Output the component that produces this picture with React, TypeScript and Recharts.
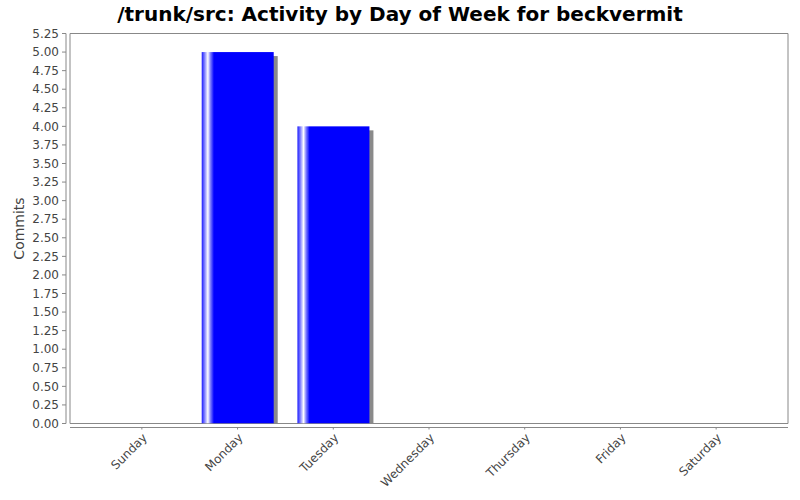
import React from 'react';
import { BarChart, Bar, XAxis, YAxis, CartesianGrid } from 'recharts';

const days = ['Sunday', 'Monday', 'Tuesday', 'Wednesday', 'Thursday', 'Friday', 'Saturday'];
const commits = [0, 5, 4, 0, 0, 0, 0];
const yTicks = [0, 0.25, 0.5, 0.75, 1, 1.25, 1.5, 1.75, 2, 2.25, 2.5, 2.75, 3, 3.25, 3.5, 3.75, 4, 4.25, 4.5, 4.75, 5, 5.25];
const title = '/trunk/src: Activity by Day of Week for beckvermit';
const yLabel = 'Commits';

const data = days.map((d, i) => ({ day: d, commits: commits[i] }));

const FONT = '"DejaVu Sans", sans-serif';
const AXIS = '#888888';
const TEXT = '#444444';

const BarShape = (props: any) => {
  const { x, y, width, height } = props;
  if (!height || height <= 0) return <g />;
  return (
    <g>
      <rect x={x + 4} y={y + 4} width={width} height={Math.max(0, height - 4)} fill="#8a8a8a" />
      <rect x={x} y={y} width={width} height={height} fill="url(#barGrad)" />
    </g>
  );
};

const XTick = (props: any) => {
  const { x, y, payload } = props;
  const px = x + 6;
  const py = y + 13;
  return (
    <text
      x={px}
      y={py}
      textAnchor="end"
      fill={TEXT}
      fontSize={12}
      fontFamily={FONT}
      transform={`rotate(-45, ${px}, ${py})`}
    >
      {payload.value}
    </text>
  );
};

export default function App() {
  return (
    <div style={{ position: 'absolute', left: 0, top: 0, width: 800, height: 500, background: '#fff' }}>
      <div
        style={{
          position: 'absolute',
          left: 0,
          top: 1,
          width: 800,
          textAlign: 'center',
          fontFamily: FONT,
          fontWeight: 'bold',
          fontSize: 20,
          color: '#000',
          lineHeight: '26px',
        }}
      >
        {title}
      </div>
      <BarChart
        width={800}
        height={500}
        data={data}
        margin={{ top: 33.5, right: 12, bottom: 0, left: 0 }}
      >
        <defs>
          <linearGradient id="barGrad" x1="0" y1="0" x2="1" y2="0">
            <stop offset="0" stopColor="#1a1aff" />
            <stop offset="0.04" stopColor="#8080ff" />
            <stop offset="0.085" stopColor="#ffffff" />
            <stop offset="0.12" stopColor="#8080ff" />
            <stop offset="0.17" stopColor="#0000ff" />
            <stop offset="1" stopColor="#0000ff" />
          </linearGradient>
        </defs>
        <CartesianGrid
          stroke={AXIS}
          strokeWidth={1}
          horizontalCoordinatesGenerator={({ offset }: any) => [offset.top, offset.top + offset.height]}
          verticalCoordinatesGenerator={({ offset }: any) => [offset.left, offset.left + offset.width]}
        />
        <XAxis
          dataKey="day"
          height={76.5}
          padding={{ left: 24, right: 24 }}
          axisLine={{ stroke: AXIS, transform: 'translate(0,4)' }}
          tickLine={{ stroke: AXIS, transform: 'translate(0,4)' }}
          tickSize={2}
          tickMargin={0}
          interval={0}
          tick={<XTick />}
        />
        <YAxis
          width={70}
          domain={[0, 5.25]}
          ticks={yTicks}
          interval={0}
          allowDataOverflow
          tickFormatter={(v: number) => v.toFixed(2)}
          axisLine={{ stroke: AXIS, transform: 'translate(-4,0)' }}
          tickLine={{ stroke: AXIS, transform: 'translate(-4,0)' }}
          tickSize={4}
          tickMargin={7}
          tick={{ fill: TEXT, fontSize: 12, fontFamily: FONT }}
          label={{
            value: yLabel,
            angle: -90,
            position: 'insideLeft',
            offset: 19,
            style: { fill: TEXT, fontSize: 14, fontFamily: FONT, textAnchor: 'middle' },
          }}
        />
        <Bar dataKey="commits" barSize={72} isAnimationActive={false} shape={<BarShape />} />
      </BarChart>
    </div>
  );
}
